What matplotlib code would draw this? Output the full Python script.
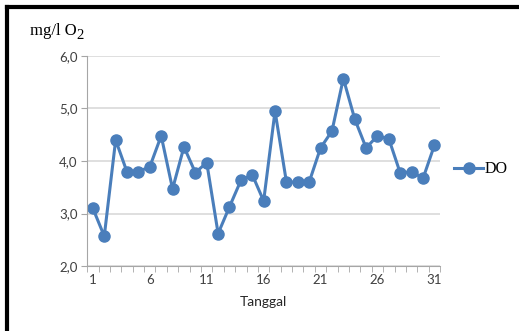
import matplotlib
matplotlib.use("Agg")
import matplotlib.pyplot as plt
from matplotlib.lines import Line2D
from matplotlib.ticker import FuncFormatter, MultipleLocator

tanggal = list(range(1, 32))
do = [3.10, 2.57, 4.40, 3.79, 3.80, 3.89, 4.48, 3.47, 4.27, 3.78,
      3.97, 2.62, 3.13, 3.63, 3.74, 3.24, 4.95, 3.60, 3.60, 3.60,
      4.25, 4.57, 5.57, 4.80, 4.25, 4.48, 4.42, 3.77, 3.80, 3.67, 4.30]
x_labels = [1, 6, 11, 16, 21, 26, 31]

fig = plt.figure(figsize=(5.19, 3.31), dpi=100)
ax = fig.add_axes([0.168, 0.196, 0.680, 0.635])

ax.plot(tanggal, do, '-o', color='#4a7ebb', lw=2.2, ms=8, label='DO')

ax.set_xlim(0.5, 31.5)
ax.set_ylim(2, 6)
ax.yaxis.set_major_locator(MultipleLocator(1))
ax.yaxis.set_major_formatter(FuncFormatter(lambda v, p: f"{v:.1f}".replace('.', ',')))
ax.grid(axis='y', color='#d9d9d9', lw=1.2)
ax.set_axisbelow(True)

# tick marks on category boundaries, labels every 5th day
ax.set_xticks([t + 0.5 for t in range(0, 32)], minor=True)
ax.set_xticks(x_labels)
ax.tick_params(axis='x', which='major', length=0, pad=6)
ax.tick_params(axis='x', which='minor', length=4, color='#a6a6a6', direction='out')
ax.tick_params(axis='y', length=4, color='#a6a6a6', pad=3)
for lab in ax.get_xticklabels() + ax.get_yticklabels():
    lab.set_family('Lato')
    lab.set_fontsize(9.5)
    lab.set_color('#404040')

for s in ['top', 'right']:
    ax.spines[s].set_visible(False)
for s in ['left', 'bottom']:
    ax.spines[s].set_color('#a6a6a6')

ax.set_xlabel('Tanggal', family='Lato', fontsize=10, color='#262626', labelpad=7)
fig.text(0.058, 0.895, 'mg/l O', family='Liberation Serif', fontsize=12)
fig.text(0.148, 0.882, '2', family='Liberation Serif', fontsize=10.5)

ax.legend(loc='center left', bbox_to_anchor=(1.0, 0.46), frameon=False,
          prop={'family': 'Liberation Serif', 'size': 11.5}, handlelength=1.8,
          handletextpad=0.1)

# black frame on top and left edge
fig.add_artist(Line2D([0.013, 1.0], [0.98, 0.98], color='black', lw=3))
fig.add_artist(Line2D([0.014, 0.014], [0.0, 0.98], color='black', lw=3))

fig.savefig('out.png', dpi=100)
